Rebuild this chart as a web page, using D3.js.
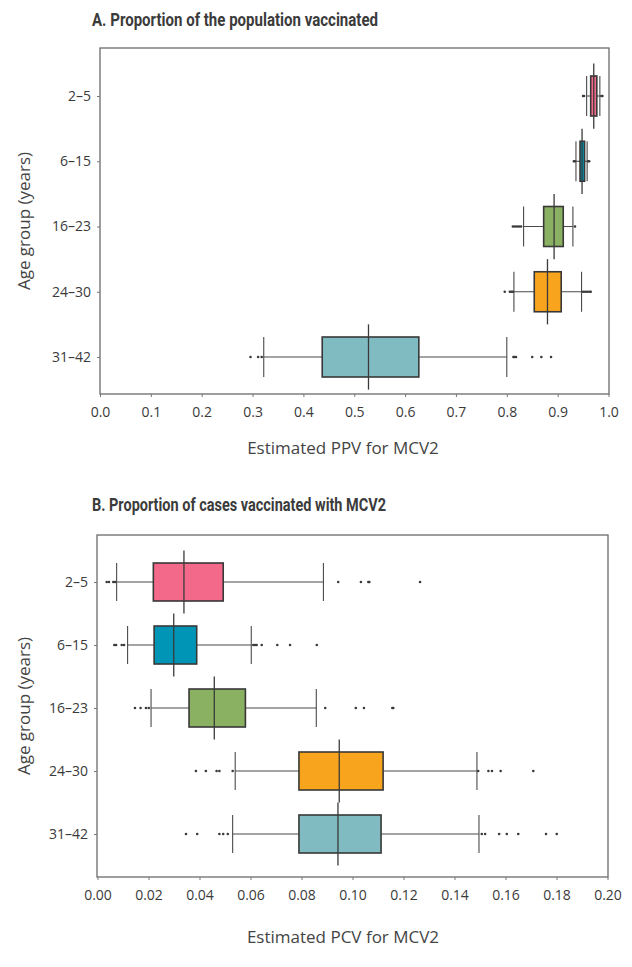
<!DOCTYPE html>
<html><head><meta charset="utf-8">
<script src="https://cdn.jsdelivr.net/npm/d3@7"></script>
<style>body{margin:0;background:#fff}svg{display:block}text{font-family:"Open Sans","Noto Sans",sans-serif;fill:#3a3a3a}</style>
</head><body>
<svg id="c" width="632" height="967"></svg>
<script>
// ---------- data ----------
const ageGroups = ["2–5", "6–15", "16–23", "24–30", "31–42"];
const boxColors = ["#f2698a", "#0095b6", "#8ab062", "#f8a51d", "#80bbc2"];

// Panel A: estimated PPV for MCV2
const ppvLowWhisker = [0.957, 0.936, 0.833, 0.814, 0.322];
const ppvQ1         = [0.965, 0.944, 0.8725, 0.854, 0.437];
const ppvMedian     = [0.971, 0.948, 0.893, 0.880, 0.528];
const ppvQ3         = [0.977, 0.953, 0.911, 0.907, 0.627];
const ppvHighWhisker= [0.983, 0.958, 0.930, 0.947, 0.800];
const ppvOutliers = [
  [0.950, 0.952, 0.986, 0.988],
  [0.932, 0.934, 0.960, 0.962],
  [0.812, 0.816, 0.820, 0.824, 0.828, 0.934],
  [0.796, 0.806, 0.809, 0.812, 0.950, 0.954, 0.958, 0.962, 0.965],
  [0.296, 0.311, 0.318, 0.813, 0.815, 0.818, 0.850, 0.868, 0.887]
];
const ppvTicks = [0, 0.1, 0.2, 0.3, 0.4, 0.5, 0.6, 0.7, 0.8, 0.9, 1.0];

// Panel B: estimated PCV for MCV2
const pcvLowWhisker = [0.0075, 0.0118, 0.0210, 0.0540, 0.0530];
const pcvQ1         = [0.0219, 0.0222, 0.0359, 0.0790, 0.0790];
const pcvMedian     = [0.0339, 0.0299, 0.0458, 0.0948, 0.0943];
const pcvQ3         = [0.0493, 0.0389, 0.0580, 0.1120, 0.1112];
const pcvHighWhisker= [0.0886, 0.0603, 0.0858, 0.1488, 0.1496];
const pcvOutliers = [
  [0.0036, 0.0045, 0.0062, 0.0069, 0.0944, 0.1033, 0.1062, 0.1066, 0.1265],
  [0.0066, 0.0073, 0.0095, 0.0104, 0.0611, 0.0618, 0.0624, 0.0644, 0.0705, 0.0755, 0.0860],
  [0.0147, 0.0169, 0.0190, 0.0201, 0.0893, 0.1013, 0.1045, 0.1156, 0.1160],
  [0.0386, 0.0425, 0.0467, 0.0478, 0.0530, 0.1493, 0.1533, 0.1547, 0.1581, 0.1709],
  [0.0347, 0.0391, 0.0478, 0.0493, 0.0511, 0.1507, 0.1520, 0.1575, 0.1605, 0.1650, 0.1759, 0.1801]
];
const pcvTicks = [0, 0.02, 0.04, 0.06, 0.08, 0.10, 0.12, 0.14, 0.16, 0.18, 0.20];

// ---------- drawing ----------
const svg = d3.select("#c");

function panel(o) {
  const g = svg.append("g");
  const x = d3.scaleLinear().domain(o.domain).range([o.left, o.right]);
  const y = d3.scalePoint().domain(ageGroups).range([o.yFirst, o.yLast]);
  const step = y.step();
  const boxH = o.boxH;

  // title
  g.append("text").attr("x", 92).attr("y", o.titleY)
    .style("font-family", "'Liberation Sans Narrow','Roboto',sans-serif")
    .attr("font-weight", "bold").attr("font-size", 18)
    .attr("textLength", o.titleLen).attr("lengthAdjust", "spacingAndGlyphs")
    .style("fill", "#3b3b3b")
    .text(o.title);

  // frame
  g.append("rect").attr("x", o.left - o.padL).attr("y", o.top)
    .attr("width", o.right - o.left + o.padL + o.padR).attr("height", o.bottom - o.top)
    .attr("fill", "none").attr("stroke", "#6b6b6b").attr("stroke-width", 1.3);

  // x axis
  const xa = d3.axisBottom(x).tickValues(o.ticks).tickFormat(d3.format(o.fmt))
    .tickSize(3).tickPadding(10);
  const xg = g.append("g").attr("transform", `translate(0,${o.bottom})`).call(xa);
  xg.select(".domain").remove();
  xg.selectAll(".tick line").attr("stroke", "#777");
  xg.selectAll(".tick text").attr("font-size", 14).style("fill", "#3a3a3a")
    .attr("font-family", null);

  // y axis
  const ya = d3.axisLeft(y).tickSize(3).tickPadding(6);
  const yg = g.append("g").attr("transform", `translate(${o.left - o.padL},0)`).call(ya);
  yg.select(".domain").remove();
  yg.selectAll(".tick line").attr("stroke", "#777");
  yg.selectAll(".tick text").attr("font-size", 14).style("fill", "#3a3a3a")
    .attr("font-family", null);

  // axis titles
  g.append("text").attr("x", 343).attr("y", o.xTitleY)
    .attr("text-anchor", "middle").attr("font-size", 17).style("fill", "#444")
    .text(o.xTitle);
  g.append("text").attr("transform", `translate(30,${(o.top + o.bottom) / 2}) rotate(-90)`)
    .attr("text-anchor", "middle").attr("font-size", 17).style("fill", "#444")
    .text("Age group (years)");

  const rows = ageGroups.map((a, i) => ({
    a, lo: o.lo[i], q1: o.q1[i], med: o.med[i], q3: o.q3[i], hi: o.hi[i],
    out: o.out[i], color: boxColors[i]
  }));
  const r = g.selectAll("g.row").data(rows).join("g").attr("class", "row");
  // whisker line
  r.append("line").attr("x1", d => x(d.lo)).attr("x2", d => x(d.hi))
    .attr("y1", d => y(d.a)).attr("y2", d => y(d.a))
    .attr("stroke", "#4a4a4a").attr("stroke-width", 1.1);
  // caps
  r.append("line").attr("x1", d => x(d.lo)).attr("x2", d => x(d.lo))
    .attr("y1", d => y(d.a) - boxH / 2).attr("y2", d => y(d.a) + boxH / 2)
    .attr("stroke", "#4a4a4a").attr("stroke-width", 1.1);
  r.append("line").attr("x1", d => x(d.hi)).attr("x2", d => x(d.hi))
    .attr("y1", d => y(d.a) - boxH / 2).attr("y2", d => y(d.a) + boxH / 2)
    .attr("stroke", "#4a4a4a").attr("stroke-width", 1.1);
  // box
  r.append("rect").attr("x", d => x(d.q1)).attr("width", d => x(d.q3) - x(d.q1))
    .attr("y", d => y(d.a) - boxH / 2).attr("height", boxH)
    .attr("fill", d => d.color).attr("stroke", "#383838").attr("stroke-width", 1.6);
  // median (extends across the band)
  r.append("line").attr("x1", d => x(d.med)).attr("x2", d => x(d.med))
    .attr("y1", d => y(d.a) - step / 2).attr("y2", d => y(d.a) + step / 2)
    .attr("stroke", "#3a3a3a").attr("stroke-width", 1.3);
  // outliers
  r.selectAll("circle").data(d => d.out.map(v => ({ v, a: d.a }))).join("circle")
    .attr("cx", d => x(d.v)).attr("cy", d => y(d.a)).attr("r", 1.3)
    .attr("fill", "#3a3a3a");
}

panel({
  title: "A. Proportion of the population vaccinated", titleY: 26, titleLen: 286,
  domain: [0, 1], left: 100, right: 608.5, padL: 0, padR: 0.5,
  top: 48, bottom: 394, yFirst: 96, yLast: 357, boxH: 40,
  ticks: ppvTicks, fmt: ".1f", xTitle: "Estimated PPV for MCV2", xTitleY: 454,
  lo: ppvLowWhisker, q1: ppvQ1, med: ppvMedian, q3: ppvQ3, hi: ppvHighWhisker, out: ppvOutliers
});

panel({
  title: "B. Proportion of cases vaccinated with MCV2", titleY: 511, titleLen: 294,
  domain: [0, 0.2], left: 97.5, right: 607.5, padL: 0.5, padR: 0.5,
  top: 535, bottom: 877, yFirst: 582, yLast: 834, boxH: 38,
  ticks: pcvTicks, fmt: ".2f", xTitle: "Estimated PCV for MCV2", xTitleY: 943,
  lo: pcvLowWhisker, q1: pcvQ1, med: pcvMedian, q3: pcvQ3, hi: pcvHighWhisker, out: pcvOutliers
});
</script>
</body></html>
